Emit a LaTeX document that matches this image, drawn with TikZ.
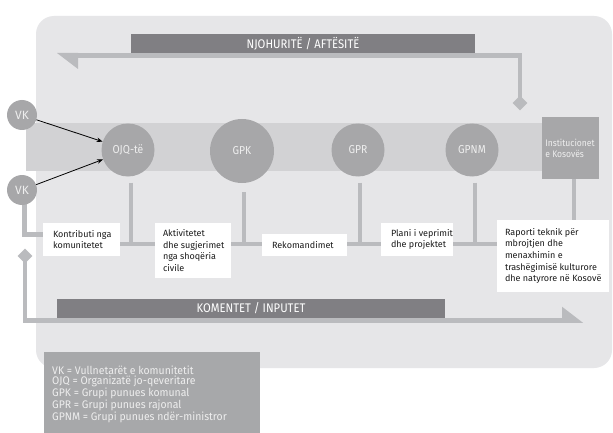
\documentclass[tikz,border=0pt]{standalone}
\usepackage{fontspec}
\setmainfont{Fira Sans}
\newfontfamily\condf{Fira Sans}[FakeStretch=0.9]
\newfontfamily\legf{Fira Sans}[FakeStretch=0.95]
\usetikzlibrary{arrows.meta,shapes.geometric}
\definecolor{bgc}{HTML}{E6E6E8}
\definecolor{bandc}{HTML}{D2D2D4}
\definecolor{circc}{HTML}{A7A7A9}
\definecolor{darkc}{HTML}{807F83}
\definecolor{connc}{HTML}{BABBBE}
\definecolor{ltext}{HTML}{EEEEEE}
\definecolor{txtc}{HTML}{1A1A1A}
\definecolor{legc}{HTML}{A7A8AA}
\pgfdeclarelayer{bg}
\pgfdeclarelayer{mid}
\pgfsetlayers{bg,mid,main}
\begin{document}
\begin{tikzpicture}[x=1pt,y=-1pt,
  conn/.style={draw=connc,line width=4.6pt,line join=miter},
  circ/.style={circle,fill=circc,inner sep=0pt,text=ltext,font=\condf\fontsize{11.5}{13}\selectfont},
  wbox/.style={rectangle,fill=white,inner sep=0pt},
  btext/.style={anchor=west,align=left,inner sep=0pt,font=\fontsize{9}{11.6}\selectfont,text=txtc},
  dbar/.style={fill=darkc,inner sep=0pt,text=white,font=\condf\fontsize{12.5}{14}\selectfont},
  dia/.style={diamond,fill=connc,inner sep=0pt,minimum width=15pt,minimum height=15pt},
  vkarr/.style={-{Stealth[length=6pt,width=4.5pt]},line width=0.8pt,black}
]
\useasboundingbox (0,0) rectangle (613,433);
\begin{pgfonlayer}{bg}
  \fill[white] (0,0) rectangle (613,433);
  \fill[bgc,rounded corners=18pt] (36,16) rectangle (612,368);
  \fill[bandc] (26,123) rectangle (542,171);
\end{pgfonlayer}

% top feedback bar
\node[dbar,minimum width=344pt,minimum height=19pt] (topbar) at (303,43.5) {NJOHURITË / AFTËSITË};
\node[dia] (d1) at (520,103) {};
\coordinate (t1) at (520,55.5);
\coordinate (t2) at (78,55.5);

% bottom feedback bar
\node[dbar,minimum width=388pt,minimum height=19pt] (botbar) at (251,308.5) {KOMENTET / INPUTET};
\node[dia] (d2) at (25,256) {};
\coordinate (u1) at (25,320.5);
\coordinate (u2) at (562,320.5);

% circles
\node[circ,minimum size=30pt,font=\fontsize{12}{13}\selectfont] (vk1) at (22,115) {VK};
\node[circ,minimum size=30pt,font=\fontsize{12}{13}\selectfont] (vk2) at (22,190) {VK};
\node[circ,minimum size=53pt] (ojq) at (128,150) {OJQ-të};
\node[circ,minimum size=64pt] (gpk) at (242,151) {GPK};
\node[circ,minimum size=53pt] (gpr) at (358,150) {GPR};
\node[circ,minimum size=53pt] (gpnm) at (472,150) {GPNM};
\node[fill=circc,minimum width=57pt,minimum height=62pt,inner sep=0pt,align=left,
      text=ltext,font=\condf\fontsize{9.5}{11}\selectfont] (inst) at (570,148) {Institucionet\\e Kosovës};

% boxes
\node[wbox,minimum width=77pt,minimum height=33pt] (b1) at (81.5,239.5) {};
\node[btext] (tx1) at ([xshift=10pt]b1.west) {Kontributi nga\\komunitetet};
\node[wbox,minimum width=76pt,minimum height=55pt] (b2) at (193,250.5) {};
\node[btext] (tx2) at ([xshift=8pt]b2.west) {Aktivitetet\\dhe sugjerimet\\nga shoqëria\\civile};
\node[wbox,minimum width=85pt,minimum height=22pt] (b3) at (304.5,245) {};
\node[btext] (tx3) at ([xshift=10pt]b3.west) {Rekomandimet};
\node[wbox,minimum width=72pt,minimum height=33pt] (b4) at (417,239.5) {};
\node[btext] (tx4) at ([xshift=10pt]b4.west) {Plani i veprimit\\dhe projektet};
\node[wbox,minimum width=112pt,minimum height=72pt] (b5) at (553,256) {};
\node[btext] (tx5) at ([xshift=8pt]b5.west) {Raporti teknik për\\mbrojtjen dhe\\menaxhimin e\\trashëgimisë kulturore\\dhe natyrore në Kosovë};

% legend
\node[fill=legc,minimum width=216pt,minimum height=81pt,inner sep=0pt,anchor=north west] (leg) at (44,352) {};
\node[anchor=north west,align=left,inner sep=0pt,text=ltext,font=\legf\fontsize{11}{10.6}\selectfont] (legtx) at (52,365.5)
  {VK = Vullnetarët e komunitetit\\OJQ = Organizatë jo-qeveritare\\GPK = Grupi punues komunal\\GPR = Grupi punues rajonal\\GPNM = Grupi punues ndër-ministror};

% junction coordinates
\coordinate (h) at (0,244);
\path (ojq.south) ++(3,6) coordinate (s1);
\path (gpk.south) ++(2,9) coordinate (s2);
\path (gpr.south) ++(2,6) coordinate (s3);
\path (gpnm.south) ++(3,6) coordinate (s4);
\coordinate (s5) at (574,0);
\coordinate (c1) at (24.5,234.5);

\begin{pgfonlayer}{mid}
  \draw[conn] (d1.center) -- (t1) -- (t2);
  \fill[connc] (57,53) -- (t2 |- 0,53) -- (78,69) -- cycle;
  \draw[conn] (d2.center) -- (u1) -- (u2);
  \fill[connc] (562,306.7) -- (562,322.8) -- (583,322.8) -- cycle;
  \draw[conn] (vk2.center -| c1) -- (c1) -- (c1 -| b1.center);
  \draw[conn] (b1.center |- h) -- (b5.center |- h);
  \draw[conn] (s1) -- (s1 |- h);
  \draw[conn] (s2) -- (s2 |- h);
  \draw[conn] (s3) -- (s3 |- h);
  \draw[conn] (s4) -- (s4 |- h);
  \draw[conn] (inst.center -| s5) -- (s5 |- b5.center);
\end{pgfonlayer}

\draw[vkarr] (vk1) -- (ojq);
\draw[vkarr] (vk2) -- (ojq);
\end{tikzpicture}
\end{document}
